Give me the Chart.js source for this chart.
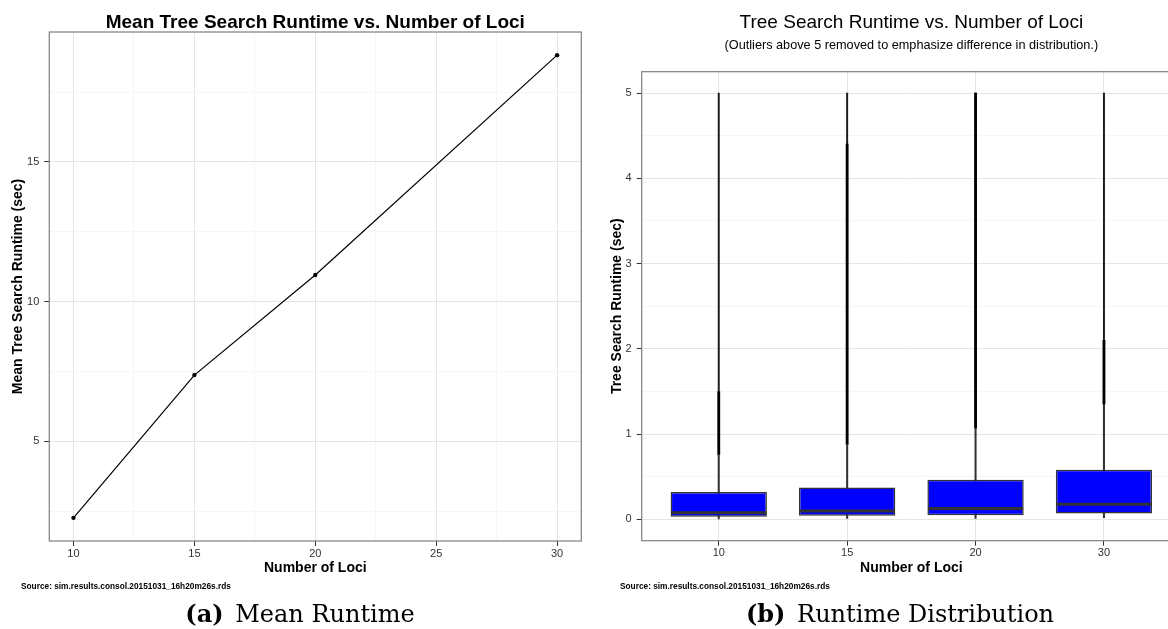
<!DOCTYPE html>
<html>
<head>
<meta charset="utf-8">
<script src="https://cdn.jsdelivr.net/npm/chart.js@4.4.0/dist/chart.umd.min.js"></script>
<style>
  html, body { margin: 0; padding: 0; width: 1168px; height: 629px; overflow: hidden; background: #ffffff; }
  #wrapA { position: absolute; left: 0; top: 0; width: 590px; height: 629px; }
  #wrapB { position: absolute; left: 590px; top: 0; width: 600px; height: 629px; }
  .src { position: absolute; font-family: 'Liberation Sans', Arial, sans-serif; font-weight: bold; font-size: 8.3px; line-height: 10px; white-space: nowrap; color: #000; }
  .cap { position: absolute; font-family: 'DejaVu Serif', serif; font-size: 24px; line-height: 28px; white-space: nowrap; transform: translateX(-50%); color: #000; }
  .cap b { margin-right: 4px; }
</style>
</head>
<body>
<div id="wrapA"><canvas id="chartA" width="590" height="629"></canvas></div>
<div id="wrapB"><canvas id="chartB" width="600" height="629"></canvas></div>
<div class="src" style="left:21px; top:581px;">Source: sim.results.consol.20151031_16h20m26s.rds</div>
<div class="src" style="left:620px; top:581px;">Source: sim.results.consol.20151031_16h20m26s.rds</div>
<div class="cap" style="left:300px; top:600px;"><b>(a)</b> Mean Runtime</div>
<div class="cap" style="left:900px; top:600px;"><b>(b)</b> Runtime Distribution</div>
<script>
// ---------- Data: (a) Mean runtime ----------
const lociValues = [10, 15, 20, 30];
const meanRuntime = [2.26, 7.37, 10.95, 18.82];
const leftXTicks = [10, 15, 20, 25, 30];
const leftXMinorTicks = [12.5, 17.5, 22.5, 27.5];
const leftYTicks = [5, 10, 15];
const leftYMinorTicks = [2.5, 7.5, 12.5, 17.5];

// ---------- Data: (b) Runtime distribution ----------
const categories = ['10', '15', '20', '30'];
const whiskerLow = [0.005, 0.01, 0.012, 0.02];
const q1Values = [0.03, 0.043, 0.047, 0.07];
const medianValues = [0.078, 0.098, 0.129, 0.176];
const q3Values = [0.32, 0.375, 0.465, 0.582];
const whiskerHigh = [0.76, 0.88, 1.07, 1.35];
const outlierDenseTop = [1.5, 4.4, 5.0, 2.1];
const outlierMax = [5.0, 5.0, 5.0, 5.0];
const rightYTicks = [0, 1, 2, 3, 4, 5];
const rightYMinorTicks = [0.5, 1.5, 2.5, 3.5, 4.5];

// ---------- Styling ----------
const FONT = "'Liberation Sans', Arial, Helvetica, sans-serif";
Chart.defaults.font.family = FONT;
Chart.defaults.color = '#000';
const MAJOR_GRID = '#e5e5e5';
const MINOR_GRID = '#f6f6f6';
const TICK_COLOR = '#333333';
const TICK_TEXT = '#333333';

function buildTicks(major, minor) {
  return function (scale) {
    const all = major.map(v => ({ value: v, minor: false }))
      .concat(minor.map(v => ({ value: v, minor: true })));
    all.sort((a, b) => a.value - b.value);
    scale.ticks = all;
  };
}
const gridColor = ctx => (ctx.tick && ctx.tick.minor) ? MINOR_GRID : MAJOR_GRID;
const tickMarkColor = ctx => (ctx.tick && ctx.tick.minor) ? 'rgba(0,0,0,0)' : TICK_COLOR;

const panelBorder = {
  id: 'panelBorder',
  afterDatasetsDraw(chart) {
    const { ctx, chartArea: a } = chart;
    ctx.save();
    ctx.strokeStyle = '#7f7f7f';
    ctx.lineWidth = 1.2;
    ctx.strokeRect(a.left, a.top, a.right - a.left, a.bottom - a.top);
    ctx.restore();
  }
};

function expandRange(values, frac) {
  const lo = Math.min(...values), hi = Math.max(...values);
  const pad = (hi - lo) * frac;
  return [lo - pad, hi + pad];
}

// ---------- Chart (a) ----------
const [leftYMin, leftYMax] = expandRange(meanRuntime, 0.05);
const [leftXMin, leftXMax] = expandRange(lociValues, 0.05);

new Chart(document.getElementById('chartA'), {
  type: 'line',
  data: {
    datasets: [{
      data: lociValues.map((x, i) => ({ x: x, y: meanRuntime[i] })),
      borderColor: '#000',
      borderWidth: 1.2,
      pointRadius: 2.2,
      pointBackgroundColor: '#000',
      pointBorderWidth: 0,
      tension: 0
    }]
  },
  options: {
    responsive: false,
    animation: false,
    events: [],
    layout: { autoPadding: false, padding: { left: 0, right: 8.7, top: 0, bottom: 52.6 } },
    plugins: {
      legend: { display: false },
      tooltip: { enabled: false },
      title: {
        display: true,
        text: 'Mean Tree Search Runtime vs. Number of Loci',
        fullSize: false,
        color: '#000',
        font: { size: 19, weight: 'bold', lineHeight: 1 },
        padding: { top: 13, bottom: 0 }
      }
    },
    scales: {
      x: {
        type: 'linear',
        min: leftXMin,
        max: leftXMax,
        afterBuildTicks: buildTicks(leftXTicks, leftXMinorTicks),
        afterFit: s => { s.height = 35.4; },
        grid: { color: gridColor, tickColor: tickMarkColor, tickLength: 5, lineWidth: 1 },
        border: { display: false },
        ticks: {
          autoSkip: false, maxRotation: 0, padding: 1,
          color: TICK_TEXT, font: { size: 11 },
          callback: (v, i, t) => t[i].minor ? '' : String(v)
        },
        title: {
          display: true, text: 'Number of Loci', color: '#000',
          font: { size: 14, weight: 'bold' }, padding: { top: 0, bottom: 0 }
        }
      },
      y: {
        type: 'linear',
        min: leftYMin,
        max: leftYMax,
        afterBuildTicks: buildTicks(leftYTicks, leftYMinorTicks),
        afterFit: s => { s.width = 49.3; },
        grid: { color: gridColor, tickColor: tickMarkColor, tickLength: 5, lineWidth: 1 },
        border: { display: false },
        ticks: {
          autoSkip: false, padding: 5,
          color: TICK_TEXT, font: { size: 11 },
          callback: (v, i, t) => t[i].minor ? '' : String(v)
        },
        title: {
          display: true, text: 'Mean Tree Search Runtime (sec)', color: '#000',
          font: { size: 14, weight: 'bold' }, padding: { top: 9.9, bottom: 0 }
        }
      }
    }
  },
  plugins: [panelBorder]
});

// ---------- Chart (b) ----------
const catPos = categories.map((c, i) => i + 1);
const rightXMin = 1 - 0.6, rightXMax = categories.length + 0.6;
const rightYMin = -0.25, rightYMax = 5.25;

const barCommon = { type: 'bar', grouped: false, borderWidth: 0 };

new Chart(document.getElementById('chartB'), {
  type: 'bar',
  data: {
    datasets: [
      Object.assign({}, barCommon, {
        label: 'outliers (sparse)',
        data: catPos.map((x, i) => ({ x: x, y: [outlierDenseTop[i], outlierMax[i]] })),
        backgroundColor: '#1a1a1a',
        barThickness: 1.3,
        order: 4
      }),
      Object.assign({}, barCommon, {
        label: 'outliers (dense)',
        data: catPos.map((x, i) => ({ x: x, y: [whiskerHigh[i], outlierDenseTop[i]] })),
        backgroundColor: '#000',
        barThickness: 2.2,
        order: 3
      }),
      Object.assign({}, barCommon, {
        label: 'whisker',
        data: catPos.map((x, i) => ({ x: x, y: [whiskerLow[i], whiskerHigh[i]] })),
        backgroundColor: '#333',
        barThickness: 1.4,
        order: 2
      }),
      {
        type: 'bar',
        label: 'box',
        grouped: false,
        data: catPos.map((x, i) => ({ x: x, y: [q1Values[i], q3Values[i]] })),
        backgroundColor: '#0000ff',
        borderColor: '#333333',
        borderWidth: 1.5,
        borderSkipped: false,
        categoryPercentage: 1,
        barPercentage: 0.75,
        order: 1
      },
      {
        type: 'line',
        label: 'median',
        data: catPos.map((x, i) => ({ x: x, y: medianValues[i] })),
        showLine: false,
        pointStyle: 'line',
        pointRadius: 47.5,
        pointBorderWidth: 3,
        pointBorderColor: '#333333',
        pointBackgroundColor: '#333333',
        order: 0
      }
    ]
  },
  options: {
    responsive: false,
    animation: false,
    events: [],
    layout: { autoPadding: false, padding: { left: 0, right: 9, top: 0, bottom: 52.3 } },
    plugins: {
      legend: { display: false },
      tooltip: { enabled: false },
      title: {
        display: true,
        text: 'Tree Search Runtime vs. Number of Loci',
        fullSize: false,
        color: '#000',
        font: { size: 19, weight: 'normal', lineHeight: 1.2 },
        padding: { top: 11.3, bottom: 2 }
      },
      subtitle: {
        display: true,
        text: '(Outliers above 5 removed to emphasize difference in distribution.)',
        fullSize: false,
        color: '#000',
        font: { size: 12.7, lineHeight: 1.2 },
        padding: { top: 2, bottom: 18.36 }
      }
    },
    scales: {
      x: {
        type: 'linear',
        min: rightXMin,
        max: rightXMax,
        offset: false,
        afterBuildTicks: s => { s.ticks = catPos.map(v => ({ value: v, minor: false })); },
        afterFit: s => { s.height = 36; },
        grid: { color: gridColor, tickColor: tickMarkColor, tickLength: 5, lineWidth: 1, offset: false },
        border: { display: false },
        ticks: {
          autoSkip: false, maxRotation: 0, padding: 1,
          color: TICK_TEXT, font: { size: 11 },
          callback: v => categories[Math.round(v) - 1]
        },
        title: {
          display: true, text: 'Number of Loci', color: '#000',
          font: { size: 14, weight: 'bold' }, padding: { top: 0, bottom: 0 }
        }
      },
      y: {
        type: 'linear',
        min: rightYMin,
        max: rightYMax,
        afterBuildTicks: buildTicks(rightYTicks, rightYMinorTicks),
        afterFit: s => { s.width = 51.7; },
        grid: { color: gridColor, tickColor: tickMarkColor, tickLength: 5, lineWidth: 1 },
        border: { display: false },
        ticks: {
          autoSkip: false, padding: 5,
          color: TICK_TEXT, font: { size: 11 },
          callback: (v, i, t) => t[i].minor ? '' : String(v)
        },
        title: {
          display: true, text: 'Tree Search Runtime (sec)', color: '#000',
          font: { size: 14, weight: 'bold' }, padding: { top: 19.1, bottom: 0 }
        }
      }
    }
  },
  plugins: [panelBorder]
});
</script>
</body>
</html>
